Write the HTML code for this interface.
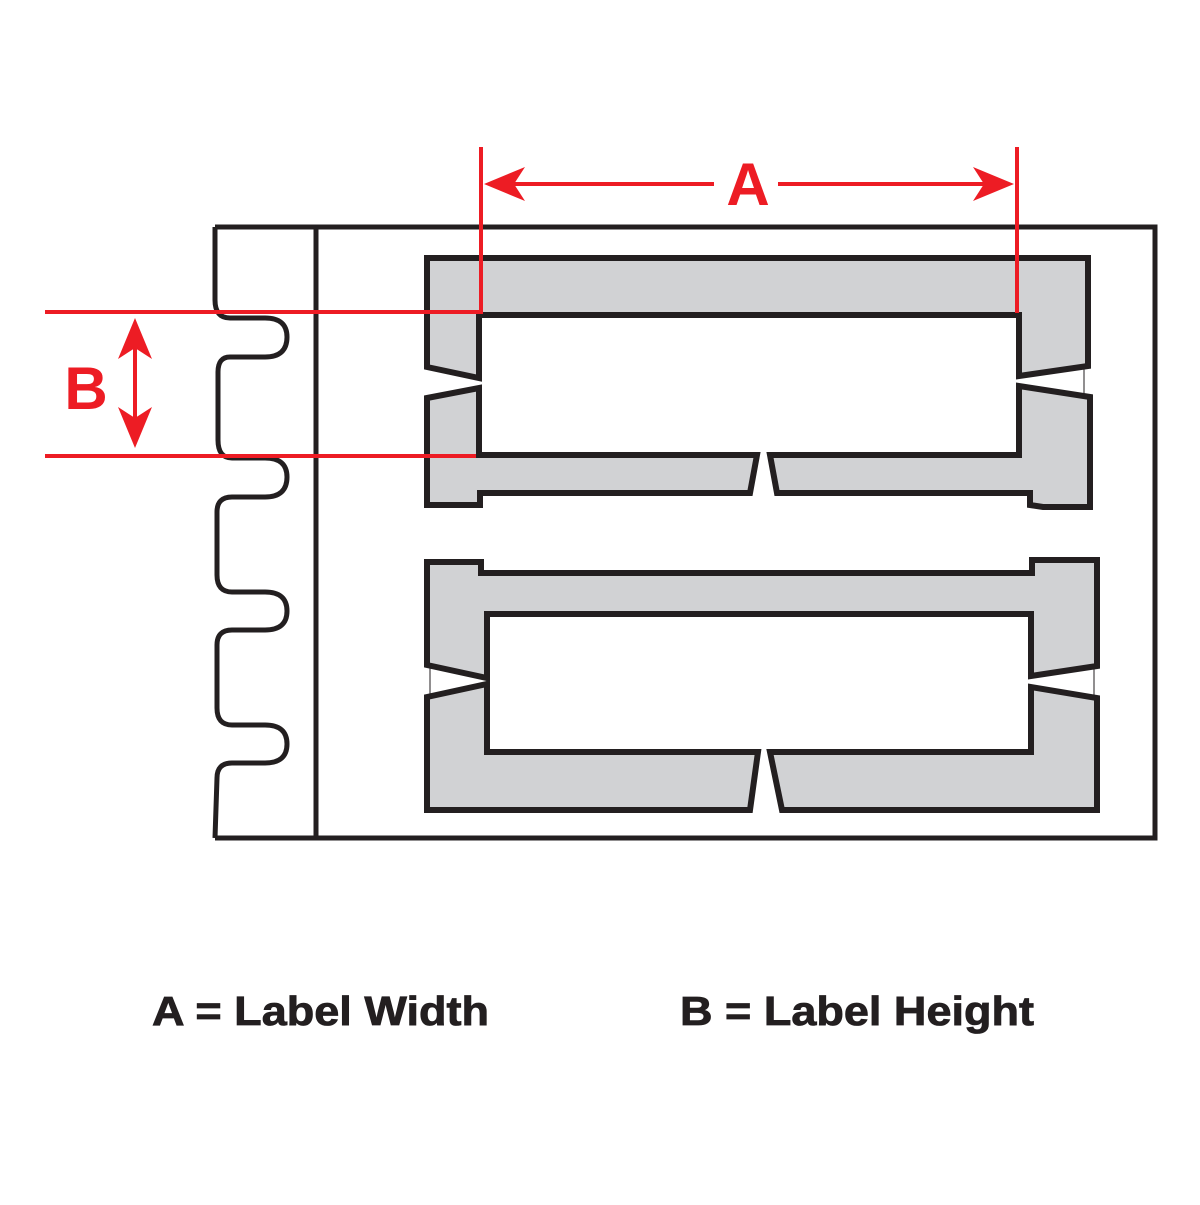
<!DOCTYPE html>
<html><head><style>body{margin:0;background:#fff}</style></head><body>
<svg width="1200" height="1200" viewBox="0 0 1200 1200" xmlns="http://www.w3.org/2000/svg">
<g fill="none" stroke="#231f20" stroke-width="5" stroke-linejoin="miter">
<rect x="316" y="227" width="839" height="611"/>
<line x1="215" y1="227" x2="337" y2="227"/>
<line x1="215" y1="838" x2="316" y2="838"/>
<path d="M215,227 L215,300 Q215,318 230,318 L265,318 Q287,318 287,337 Q287,357 265,357 L230,357 Q218,357 218,372 L218,440 Q218,458 232,458 L265,458 Q287,458 287,477 Q287,497 265,497 L232,497 Q217,497 217,512 L217,575 Q217,592 232,592 L265,592 Q287,592 287,611 Q287,630 265,630 L232,630 Q217,630 217,645 L217,708 Q217,725 232,725 L265,725 Q287,725 287,744 Q287,763 265,763 L232,763 Q217,763 217,778 L215,838"/>
</g>
<g fill="#d1d2d4" stroke="#231f20" stroke-width="6" stroke-linejoin="miter">
<polygon points="427,258 1088,258 1088,366 1019,376 1019,315 479,315 479,378 427,367"/>
<polygon points="427,398 479,388 479,455 757,455 750,493 480,493 480,505 427,505"/>
<polygon points="770,455 1019,455 1019,386 1090,397 1090,507 1043,507 1030,505 1030,493 777,493"/>
<polygon points="427,562 481,562 481,573 1032,573 1032,560 1097,560 1097,666 1031,676 1031,614 487,614 487,678 427,665"/>
<polygon points="427,697 487,684 487,752 758,752 750,810 427,810"/>
<polygon points="770,752 1031,752 1031,687 1097,698 1097,810 782,810"/>
</g>
<g stroke="#231f20" stroke-width="1">
<line x1="1084" y1="366" x2="1084" y2="397"/>
<line x1="430" y1="665" x2="430" y2="697"/>
<line x1="1094" y1="666" x2="1094" y2="698"/>
</g>
<g stroke="#ed1c24" stroke-width="4" fill="none">
<polyline points="481,147 481,312 45,312"/>
<line x1="1017" y1="147" x2="1017" y2="313"/>
<line x1="45" y1="456" x2="476" y2="456"/>
<line x1="505" y1="184" x2="714" y2="184"/>
<line x1="778" y1="184" x2="993" y2="184"/>
<line x1="135" y1="340" x2="135" y2="428"/>
</g>
<g fill="#ed1c24">
<polygon points="484,184 525,167 514,184 525,201"/>
<polygon points="1014,184 973,167 984,184 973,201"/>
<polygon points="135,318 118,359 135,348 152,359"/>
<polygon points="135,448 118,407 135,418 152,407"/>
<text x="748" y="205" font-family="Liberation Sans, sans-serif" font-weight="bold" font-size="60" text-anchor="middle">A</text>
<text x="86" y="409" font-family="Liberation Sans, sans-serif" font-weight="bold" font-size="60" text-anchor="middle">B</text>
</g>
<g fill="#231f20" stroke="#231f20" stroke-width="0.8" font-family="Liberation Sans, sans-serif" font-weight="bold" font-size="41">
<text x="152" y="1025" textLength="337" lengthAdjust="spacingAndGlyphs">A = Label Width</text>
<text x="680" y="1025" textLength="354" lengthAdjust="spacingAndGlyphs">B = Label Height</text>
</g>
</svg>
</body></html>
